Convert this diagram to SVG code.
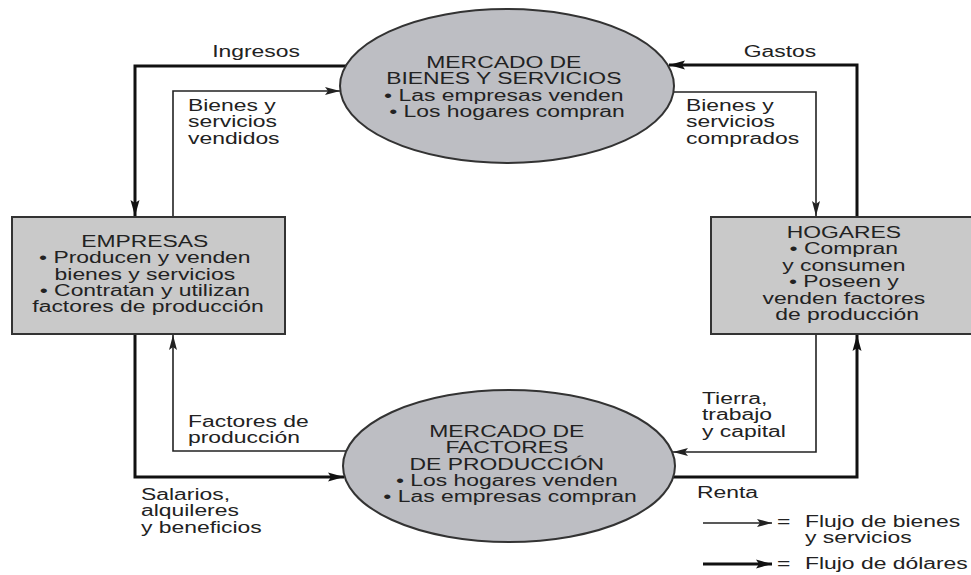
<svg xmlns="http://www.w3.org/2000/svg" width="971" height="575" viewBox="0 0 971 575">
<style>
  text { font-family: "Liberation Sans", Arial, sans-serif; font-size: 16px; fill: #222; }
  .node-shape { stroke: #333; stroke-width: 2; }
  .ell { fill: #bdbec3; }
  .box { fill: #c9c9c9; }
  .thin { fill: none; stroke: #222; stroke-width: 1.6; }
  .thick { fill: none; stroke: #111; stroke-width: 3; }
</style>
<defs>
  <marker id="ahThin" markerUnits="userSpaceOnUse" markerWidth="16" markerHeight="10" refX="15" refY="5" orient="auto">
    <path d="M0,1 L15,5 L0,9 L3,5 Z" fill="#222"/>
  </marker>
  <marker id="ahThick" markerUnits="userSpaceOnUse" markerWidth="17" markerHeight="12" refX="16" refY="6" orient="auto">
    <path d="M0,1.5 L16,6 L0,10.5 L3,6 Z" fill="#111"/>
  </marker>
</defs>
<rect width="971" height="575" fill="#fff"/>

<g id="connectors">
  <path class="thick" d="M346,66 H135 V216" marker-end="url(#ahThick)"/>
  <path class="thin" d="M173,217 V91 H340" marker-end="url(#ahThin)"/>
  <path class="thick" d="M857,217 V65 H669" marker-end="url(#ahThick)"/>
  <path class="thin" d="M673,92 H816 V216" marker-end="url(#ahThin)"/>
  <path class="thin" d="M346,451 H173 V335" marker-end="url(#ahThin)"/>
  <path class="thick" d="M135,334 V477 H344" marker-end="url(#ahThick)"/>
  <path class="thin" d="M816,334 V452 H673" marker-end="url(#ahThin)"/>
  <path class="thick" d="M673,477 H857 V335" marker-end="url(#ahThick)"/>
</g>

<g id="mercado-bienes">
  <ellipse class="node-shape ell" cx="507" cy="86" rx="167" ry="77"/>
  <text transform="translate(507,68) scale(1.43,1)" text-anchor="middle">
    <tspan x="0" y="0">MERCADO DE</tspan>
    <tspan x="0" dy="16.5">BIENES Y SERVICIOS</tspan>
    <tspan x="0" dy="16.5">• Las empresas venden</tspan>
    <tspan x="0" dy="16.5">• Los hogares compran</tspan>
  </text>
</g>

<g id="empresas">
  <rect class="node-shape box" x="12" y="217" width="273" height="117"/>
  <text transform="translate(148,247) scale(1.43,1)" text-anchor="middle">
    <tspan x="0" y="0">EMPRESAS</tspan>
    <tspan x="0" dy="16.3">• Producen y venden</tspan>
    <tspan x="0" dy="16.3">bienes y servicios</tspan>
    <tspan x="0" dy="16.3">• Contratan y utilizan</tspan>
    <tspan x="0" dy="16.3">factores de producción</tspan>
  </text>
</g>

<g id="hogares">
  <rect class="node-shape box" x="711" y="217" width="275" height="117"/>
  <text transform="translate(847,238) scale(1.43,1)" text-anchor="middle">
    <tspan x="0" y="0">HOGARES</tspan>
    <tspan x="0" dy="16.4">• Compran</tspan>
    <tspan x="0" dy="16.4">y consumen</tspan>
    <tspan x="0" dy="16.4">• Poseen y</tspan>
    <tspan x="0" dy="16.4">venden factores</tspan>
    <tspan x="0" dy="16.4">de producción</tspan>
  </text>
</g>

<g id="mercado-factores">
  <ellipse class="node-shape ell" cx="509" cy="466" rx="166" ry="76"/>
  <text transform="translate(510,437) scale(1.43,1)" text-anchor="middle">
    <tspan x="0" y="0">MERCADO DE</tspan>
    <tspan x="0" dy="16.3">FACTORES</tspan>
    <tspan x="0" dy="16.3">DE PRODUCCIÓN</tspan>
    <tspan x="0" dy="16.3">• Los hogares venden</tspan>
    <tspan x="0" dy="16.3">• Las empresas compran</tspan>
  </text>
</g>

<g id="labels">
  <text transform="translate(256,57) scale(1.43,1)" text-anchor="middle">Ingresos</text>
  <text transform="translate(780,57) scale(1.43,1)" text-anchor="middle">Gastos</text>
  <text transform="translate(188,111) scale(1.43,1)">
    <tspan x="0" y="0">Bienes y</tspan>
    <tspan x="0" dy="16.3">servicios</tspan>
    <tspan x="0" dy="16.3">vendidos</tspan>
  </text>
  <text transform="translate(686,111) scale(1.43,1)">
    <tspan x="0" y="0">Bienes y</tspan>
    <tspan x="0" dy="16.3">servicios</tspan>
    <tspan x="0" dy="16.3">comprados</tspan>
  </text>
  <text transform="translate(188,427) scale(1.43,1)">
    <tspan x="0" y="0">Factores de</tspan>
    <tspan x="0" dy="16.3">producción</tspan>
  </text>
  <text transform="translate(141,500) scale(1.43,1)">
    <tspan x="0" y="0">Salarios,</tspan>
    <tspan x="0" dy="16.5">alquileres</tspan>
    <tspan x="0" dy="16.5">y beneficios</tspan>
  </text>
  <text transform="translate(702,404) scale(1.43,1)">
    <tspan x="0" y="0">Tierra,</tspan>
    <tspan x="0" dy="16.3">trabajo</tspan>
    <tspan x="0" dy="16.3">y capital</tspan>
  </text>
  <text transform="translate(697,498) scale(1.43,1)">Renta</text>
</g>

<g id="legend">
  <line class="thin" x1="703" y1="523" x2="772" y2="523" marker-end="url(#ahThin)"/>
  <text transform="translate(777,527) scale(1.43,1)">=<tspan x="19.6">Flujo de bienes</tspan></text>
  <text transform="translate(805,543) scale(1.43,1)">y servicios</text>
  <line class="thick" x1="703" y1="564" x2="772" y2="564" marker-end="url(#ahThick)"/>
  <text transform="translate(777,569) scale(1.43,1)">=<tspan x="19.6">Flujo de dólares</tspan></text>
</g>
</svg>
